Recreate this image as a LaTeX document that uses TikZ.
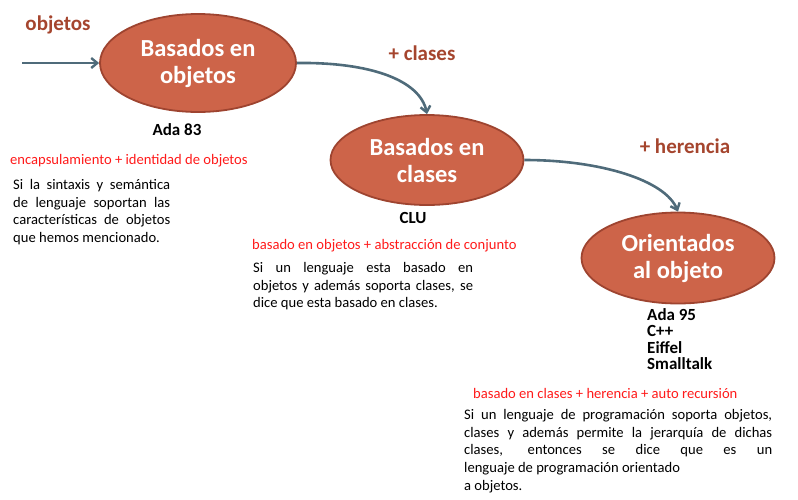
\documentclass[tikz,border=0pt]{standalone}
\usepackage{fontspec}
\setmainfont{Carlito}
\usetikzlibrary{shapes.geometric,arrows.meta}
\definecolor{ellfill}{HTML}{CD6449}
\definecolor{elldraw}{HTML}{9E4430}
\definecolor{arrowc}{HTML}{4F6B7A}
\definecolor{brownlbl}{HTML}{A5452E}
\definecolor{redtxt}{HTML}{FF1A1A}
\newcommand{\jline}[2]{\makebox[#1][s]{#2}}
\tikzset{
  stage/.style={ellipse, draw=elldraw, line width=1.8pt, fill=ellfill, text=white,
    font=\bfseries\fontsize{24.5}{27}\selectfont, align=center, inner sep=0pt},
  flow/.style={draw=arrowc, line width=2.6pt, -{Straight Barb[length=6pt,width=10pt,line width=2.4pt]}},
  steplbl/.style={text=brownlbl, font=\bfseries\fontsize{21}{23}\selectfont, inner sep=0pt},
  lang/.style={font=\bfseries\fontsize{17}{16.5}\selectfont, inner sep=0pt, align=left},
  redline/.style={text=redtxt, font=\fontsize{14.6}{16}\selectfont, inner sep=0pt, anchor=west},
  para/.style={font=\fontsize{14.6}{17.8}\selectfont, inner sep=0pt, align=left, anchor=north west}
}
\begin{document}
\begin{tikzpicture}[x=1pt,y=-1pt]
\useasboundingbox (0,0) rectangle (798,499);
\node[stage, minimum width=196pt, minimum height=98pt] (e1) at (198,63) {Basados en\\objetos};
\node[stage, minimum width=193pt, minimum height=90pt] (e2) at (427,160) {Basados en\\clases};
\node[stage, minimum width=193pt, minimum height=91pt] (e3) at (678,258) {Orientados\\al objeto};

\coordinate (start) at (22,63);
\draw[flow] (start) -- (e1.west);
\draw[flow] (e1.east) .. controls (370,62) and (420,80) .. (e2.north);
\draw[flow] (e2.east) .. controls (600,160) and (665,180) .. (e3.north);

\node[steplbl] (l0) at (58,25) {objetos};
\node[steplbl] (l1) at (422,53) {+ clases};
\node[steplbl] (l2) at (685,146) {+ herencia};

\node[lang] (a83) at (177,130) {Ada 83};
\node[lang] (clu) at (413,218) {CLU};
\node[lang, anchor=north west] (oo) at (647,308) {Ada 95\\C++\\Eiffel\\Smalltalk};

\node[redline] (r1) at (10,161) {encapsulamiento + identidad de objetos};
\node[redline] (r2) at (252,246) {basado en objetos + abstracción de conjunto};
\node[redline] (r3) at (473,393) {basado en clases + herencia + auto recursión};

\node[para] (p1) at (13,179) {\jline{157pt}{Si la sintaxis y semántica}\\\jline{157pt}{de lenguaje soportan las}\\\jline{157pt}{características de objetos}\\que hemos mencionado.};
\node[para] (p2) at (253,262) {\jline{220pt}{Si un lenguaje esta basado en}\\\jline{220pt}{objetos y además soporta clases, se}\\dice que esta basado en clases.};
\node[para] (p3) at (464,409) {\jline{308pt}{Si un lenguaje de programación soporta objetos,}\\\jline{308pt}{clases y además permite la jerarquía de dichas}\\\jline{308pt}{clases, entonces se dice que es un}\\lenguaje de programación orientado\\a objetos.};
\end{tikzpicture}
\end{document}
